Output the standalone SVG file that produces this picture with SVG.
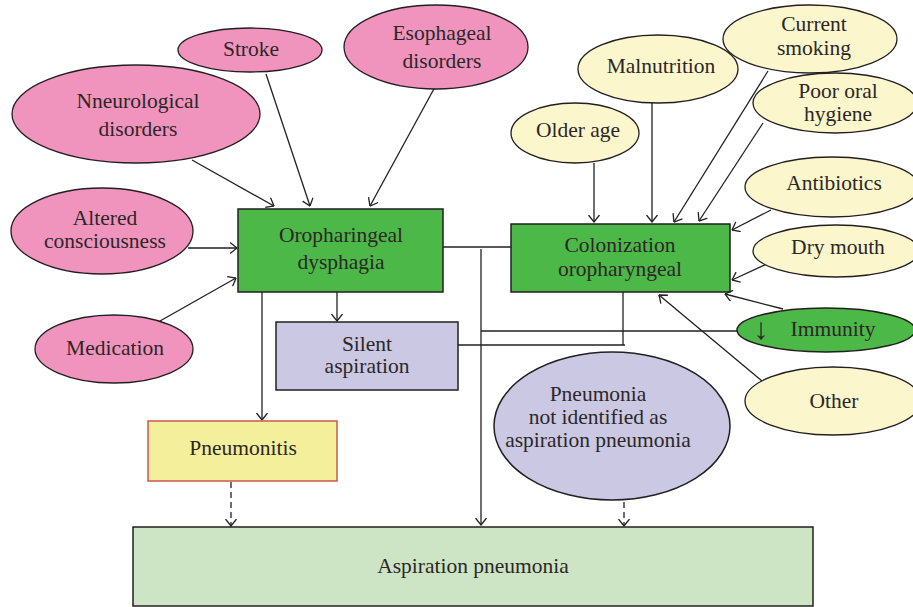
<svg xmlns="http://www.w3.org/2000/svg" width="913" height="607" viewBox="0 0 913 607">
<style>
text{font-family:"Liberation Serif","Times New Roman",serif;font-size:21.5px;fill:#2b2727;text-anchor:middle}
.pink{fill:#f194bd;stroke:#231f20;stroke-width:1.3}
.yel{fill:#fbf6cc;stroke:#231f20;stroke-width:1.3}
.grn{fill:#4cb848;stroke:#231f20;stroke-width:1.5}
.lav{fill:#cbc8e3;stroke:#231f20;stroke-width:1.5}
.ln{fill:none;stroke:#231f20;stroke-width:1.3}
.dash{stroke-dasharray:6 4}
</style>
<defs>
<marker id="ah" viewBox="0 0 8 12" refX="7.5" refY="6" markerWidth="8" markerHeight="12" markerUnits="userSpaceOnUse" orient="auto">
<path d="M0.5,0.5 L7.5,6 L0.5,11.5" fill="none" stroke="#231f20" stroke-width="1.3"/>
</marker>
</defs>
<rect width="913" height="607" fill="#fff"/>

<g id="connectors">
<line class="ln" x1="192" y1="160" x2="274" y2="206" marker-end="url(#ah)"/>
<line class="ln" x1="266" y1="74" x2="310" y2="206" marker-end="url(#ah)"/>
<line class="ln" x1="435" y1="87" x2="370" y2="206" marker-end="url(#ah)"/>
<line class="ln" x1="188" y1="248" x2="237" y2="248" marker-end="url(#ah)"/>
<line class="ln" x1="160" y1="321" x2="236" y2="278" marker-end="url(#ah)"/>
<line class="ln" x1="594" y1="163" x2="594" y2="222" marker-end="url(#ah)"/>
<line class="ln" x1="652" y1="102" x2="652" y2="222" marker-end="url(#ah)"/>
<line class="ln" x1="768" y1="71" x2="674" y2="222" marker-end="url(#ah)"/>
<line class="ln" x1="763" y1="123" x2="699" y2="221" marker-end="url(#ah)"/>
<line class="ln" x1="771" y1="210" x2="732" y2="230" marker-end="url(#ah)"/>
<line class="ln" x1="769" y1="263" x2="732" y2="280" marker-end="url(#ah)"/>
<line class="ln" x1="783" y1="309" x2="725" y2="294" marker-end="url(#ah)"/>
<line class="ln" x1="762" y1="381" x2="659" y2="295" marker-end="url(#ah)"/>
<line class="ln" x1="443" y1="247" x2="511" y2="247"/>
<line class="ln" x1="481" y1="249" x2="481" y2="525" marker-end="url(#ah)"/>
<line class="ln" x1="481" y1="331" x2="737" y2="331"/>
<line class="ln" x1="458" y1="345" x2="625" y2="345"/>
<line class="ln" x1="623" y1="292" x2="623" y2="345"/>
<line class="ln" x1="337" y1="292" x2="337" y2="321" marker-end="url(#ah)"/>
<line class="ln" x1="262" y1="292" x2="262" y2="420" marker-end="url(#ah)"/>
<line class="ln dash" x1="231" y1="482" x2="231" y2="526" marker-end="url(#ah)"/>
<line class="ln dash" x1="624" y1="502" x2="624" y2="526" marker-end="url(#ah)"/>
</g>

<g id="stroke"><ellipse class="pink" cx="250" cy="50" rx="72" ry="22"/><text x="251" y="56">Stroke</text></g>
<g id="esophageal"><ellipse class="pink" cx="436" cy="47" rx="92" ry="42"/><text x="442" y="40">Esophageal</text><text x="442" y="68">disorders</text></g>
<g id="neurological"><ellipse class="pink" cx="136" cy="114" rx="124" ry="49"/><text x="138" y="108">Nneurological</text><text x="138" y="136">disorders</text></g>
<g id="altered"><ellipse class="pink" cx="102" cy="231" rx="91" ry="43"/><text x="105" y="225">Altered</text><text x="105" y="248">consciousness</text></g>
<g id="medication"><ellipse class="pink" cx="114" cy="349" rx="79" ry="34"/><text x="115" y="355">Medication</text></g>

<g id="older-age"><ellipse class="yel" cx="575" cy="133" rx="64" ry="30"/><text x="578" y="137">Older age</text></g>
<g id="malnutrition"><ellipse class="yel" cx="658" cy="69" rx="80" ry="34"/><text x="661" y="73">Malnutrition</text></g>
<g id="smoking"><ellipse class="yel" cx="810" cy="39" rx="87" ry="34"/><text x="814" y="31">Current</text><text x="814" y="55">smoking</text></g>
<g id="hygiene"><ellipse class="yel" cx="835" cy="103" rx="82" ry="30"/><text x="838" y="98">Poor oral</text><text x="838" y="121">hygiene</text></g>
<g id="antibiotics"><ellipse class="yel" cx="832" cy="187" rx="87" ry="30"/><text x="834" y="190">Antibiotics</text></g>
<g id="dry-mouth"><ellipse class="yel" cx="836" cy="251" rx="83" ry="26"/><text x="838" y="254">Dry mouth</text></g>
<g id="immunity"><ellipse class="grn" cx="826" cy="330" rx="89" ry="22"/><text y="339"><tspan x="761" font-size="30">↓</tspan><tspan x="833" y="336">Immunity</tspan></text></g>
<g id="other"><ellipse class="yel" cx="833" cy="401" rx="88" ry="34"/><text x="834" y="408">Other</text></g>

<g id="dysphagia"><rect class="grn" x="238" y="209" width="205" height="83"/><text x="341" y="242">Oropharingeal</text><text x="341" y="269">dysphagia</text></g>
<g id="colonization"><rect class="grn" x="511" y="224" width="219" height="68"/><text x="620" y="252">Colonization</text><text x="620" y="276">oropharyngeal</text></g>
<g id="silent"><rect class="lav" x="276" y="322" width="182" height="68"/><text x="367" y="351">Silent</text><text x="367" y="373">aspiration</text></g>
<g id="pneumonitis"><rect x="148" y="421" width="189" height="60" fill="#f4ef9b" stroke="#c9594e" stroke-width="1.5"/><text x="243" y="455">Pneumonitis</text></g>
<g id="pneumonia-not-identified"><ellipse class="lav" cx="612" cy="426" rx="118" ry="74"/><text x="598" y="401">Pneumonia</text><text x="598" y="424">not identified as</text><text x="598" y="447">aspiration pneumonia</text></g>
<g id="aspiration-pneumonia"><rect x="133" y="527" width="680" height="79" fill="#cde5c5" stroke="#231f20" stroke-width="1.5"/><text x="473" y="573">Aspiration pneumonia</text></g>
</svg>
